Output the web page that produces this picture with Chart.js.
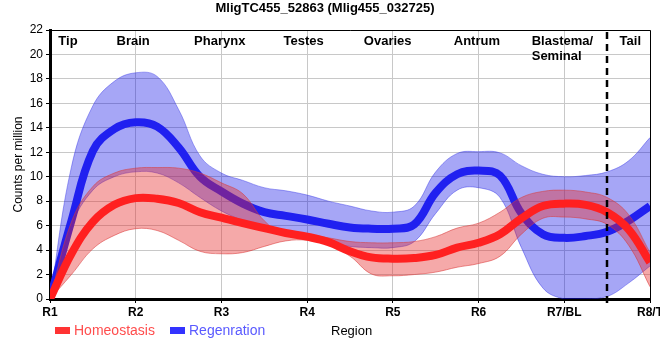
<!DOCTYPE html>
<html>
<head>
<meta charset="utf-8">
<script src="https://cdn.jsdelivr.net/npm/chart.js@4/dist/chart.umd.min.js"></script>
<style>
  html, body { margin: 0; padding: 0; background: #fff; }
  #chart { display: block; }
</style>
</head>
<body>
<canvas id="chart" width="660" height="360"></canvas>
<script>
const chartTitle = "MligTC455_52863 (Mlig455_032725)";
const regionTicks = ["R1", "R2", "R3", "R4", "R5", "R6", "R7/BL", "R8/T"];
const regionNames = ["Tip", "Brain", "Pharynx", "Testes", "Ovaries", "Antrum", "Blastema/\nSeminal", "Tail"];

// sample positions along the body (1 = R1 ... 8 = R8/T), quarter steps
const positions = [1, 1.25, 1.5, 1.75, 2, 2.25, 2.5, 2.75, 3, 3.25, 3.5, 3.75, 4,
  4.25, 4.5, 4.75, 5, 5.25, 5.5, 5.75, 6, 6.25, 6.5, 6.75, 7, 7.25, 7.5, 7.75, 8];

const homeostasis = [0, 3.7, 6.3, 7.7, 8.25, 8.2, 7.85, 7.1, 6.65, 6.2, 5.8, 5.4, 5.1,
  4.65, 3.9, 3.4, 3.3, 3.35, 3.6, 4.2, 4.6, 5.3, 6.6, 7.6, 7.8, 7.7, 7.1, 5.7, 3.0];
const homeostasisHigh = [0, 6.3, 9.2, 10.3, 10.7, 10.75, 10.7, 10.3, 9.5, 8.6, 6.4, 5.2, 5.25,
  5.0, 4.7, 4.6, 4.6, 4.7, 5.1, 5.8, 6.2, 7.1, 8.3, 8.8, 8.9, 8.75, 8.3, 6.9, 3.8];
const homeostasisLow = [0, 2.0, 4.1, 5.2, 5.75, 5.6, 4.8, 3.9, 3.7, 3.8, 4.3, 4.75, 4.8,
  4.4, 3.5, 2.05, 1.9, 2.0, 2.2, 2.6, 2.9, 3.5, 5.3, 6.6, 6.7, 6.55, 6.1, 4.4, 1.0];

const regeneration = [0, 6.4, 12.1, 13.9, 14.45, 14.1, 12.4, 10.0, 8.8, 7.8, 7.1, 6.8, 6.5,
  6.15, 5.85, 5.75, 5.75, 6.1, 8.7, 10.2, 10.5, 10.1, 7.0, 5.3, 5.0, 5.15, 5.5, 6.4, 7.6];
const regenerationHigh = [0, 10.8, 15.8, 17.8, 18.5, 18.2, 15.5, 11.7, 10.3, 9.7, 9.1, 8.85, 8.5,
  8.0, 7.6, 7.2, 7.1, 7.6, 10.4, 11.9, 12.05, 11.95, 10.9, 10.2, 10.0, 10.1, 10.4, 11.3, 13.2];
const regenerationLow = [0, 6.0, 8.9, 10.0, 10.4, 10.3, 9.5, 8.3, 7.2, 6.4, 5.7, 5.3, 4.95,
  4.6, 4.3, 4.2, 4.2, 4.7, 7.0, 8.9, 9.1, 8.3, 4.2, 0.9, 0, 0, 0.2, 1.3, 2.7];

const splitAt = 7.5; // dashed divider between R7/BL and R8/T

function toPoints(values) {
  return values.map((v, i) => ({ x: positions[i], y: v }));
}

function lineSet(label, values, color) {
  return {
    label,
    data: toPoints(values),
    borderColor: color,
    borderWidth: 8,
    pointRadius: 0,
    fill: false,
    tension: 0.4,
  };
}

function bandSet(label, values, edge, fillColor, fillTarget) {
  return {
    label,
    data: toPoints(values),
    borderColor: edge,
    borderWidth: 1,
    pointRadius: 0,
    backgroundColor: fillColor,
    fill: fillTarget,
    tension: 0.4,
  };
}

const regionLabelPos = [1.21, 1.97, 2.98, 3.96, 4.94, 5.98, 6.62, 7.77];

const decorPlugin = {
  id: "decor",
  afterDraw(chart) {
    const { ctx, chartArea } = chart;
    const xs = chart.scales.x;
    ctx.save();

    // thin top/right frame
    ctx.strokeStyle = "#000";
    ctx.lineWidth = 1;
    ctx.beginPath();
    ctx.moveTo(chartArea.left, chartArea.top + 0.5);
    ctx.lineTo(chartArea.right + 0.5, chartArea.top + 0.5);
    ctx.lineTo(chartArea.right + 0.5, chartArea.bottom);
    ctx.stroke();

    // dashed divider
    const dx = Math.round(xs.getPixelForValue(splitAt));
    ctx.setLineDash([7, 5]);
    ctx.lineWidth = 2.5;
    ctx.beginPath();
    ctx.moveTo(dx, chartArea.top + 2);
    ctx.lineTo(dx, chartArea.bottom + 7);
    ctx.stroke();
    ctx.setLineDash([]);

    // region names along the top
    ctx.fillStyle = "#000";
    ctx.font = "bold 13px 'Liberation Sans', Arial, sans-serif";
    ctx.textBaseline = "middle";
    regionNames.forEach((name, i) => {
      const x = xs.getPixelForValue(regionLabelPos[i]);
      const lines = name.split("\n");
      ctx.textAlign = lines.length > 1 ? "left" : "center";
      lines.forEach((ln, j) => ctx.fillText(ln, x, chartArea.top + 11 + j * 15));
    });

    // legend + axis name row
    ctx.textAlign = "left";
    ctx.font = "14px 'Liberation Sans', Arial, sans-serif";
    const ly = 331;
    ctx.fillStyle = "#ff3333";
    ctx.fillRect(55, ly - 4, 15, 7);
    ctx.fillStyle = "#ff4d4d";
    ctx.fillText("Homeostasis", 74, ly);
    ctx.fillStyle = "#3333ff";
    ctx.fillRect(170, ly - 4, 15, 7);
    ctx.fillStyle = "#5a5aff";
    ctx.fillText("Regenration", 189, ly);
    ctx.fillStyle = "#000";
    ctx.font = "13px 'Liberation Sans', Arial, sans-serif";
    ctx.fillText("Region", 331, ly);

    ctx.restore();
  },
};

new Chart(document.getElementById("chart"), {
  type: "line",
  data: {
    datasets: [
      lineSet("Homeostasis", homeostasis, "#ff2020"),
      bandSet("Homeostasis high", homeostasisHigh, "rgba(215,60,60,0.55)", "rgba(230,40,40,0.4)", "+1"),
      bandSet("Homeostasis low", homeostasisLow, "rgba(215,60,60,0.55)", "transparent", false),
      lineSet("Regenration", regeneration, "#2020f0"),
      bandSet("Regenration high", regenerationHigh, "rgba(60,60,230,0.45)", "rgba(0,0,230,0.35)", "+1"),
      bandSet("Regenration low", regenerationLow, "rgba(60,60,230,0.45)", "transparent", false),
    ],
  },
  options: {
    responsive: false,
    animation: false,
    layout: { padding: { left: 0, right: 10, top: 0, bottom: 0 } },
    plugins: {
      legend: { display: false },
      tooltip: { enabled: false },
      title: {
        display: true,
        text: chartTitle,
        color: "#000",
        font: { family: "'Liberation Sans', Arial, sans-serif", size: 13, weight: "bold" },
        padding: { top: 1, bottom: 13.4 },
      },
    },
    scales: {
      x: {
        type: "linear",
        min: 1,
        max: 8,
        ticks: {
          stepSize: 1,
          color: "#000",
          padding: 2,
          font: { family: "'Liberation Sans', Arial, sans-serif", size: 12, weight: "bold" },
          callback: (v) => regionTicks[v - 1] || "",
          maxRotation: 0,
        },
        grid: { color: "#c8c8c8", tickColor: "#000", tickLength: 4 },
        border: { color: "#000", width: 3 },
        afterFit: (scale) => {
          scale.height = 61;
          scale.paddingLeft = 0;
          scale.paddingRight = 0;
        },
      },
      y: {
        min: 0,
        max: 22,
        ticks: {
          stepSize: 2,
          color: "#000",
          padding: 3,
          font: { family: "'Liberation Sans', Arial, sans-serif", size: 12 },
        },
        grid: { color: "#c8c8c8", tickColor: "#000", tickLength: 4 },
        border: { color: "#000", width: 3 },
        title: {
          display: true,
          text: "Counts per million",
          color: "#000",
          font: { family: "'Liberation Sans', Arial, sans-serif", size: 12 },
          padding: { top: 11, bottom: 0 },
        },
        afterFit: (scale) => {
          scale.width = 50;
        },
      },
    },
  },
  plugins: [decorPlugin],
});
</script>
</body>
</html>
